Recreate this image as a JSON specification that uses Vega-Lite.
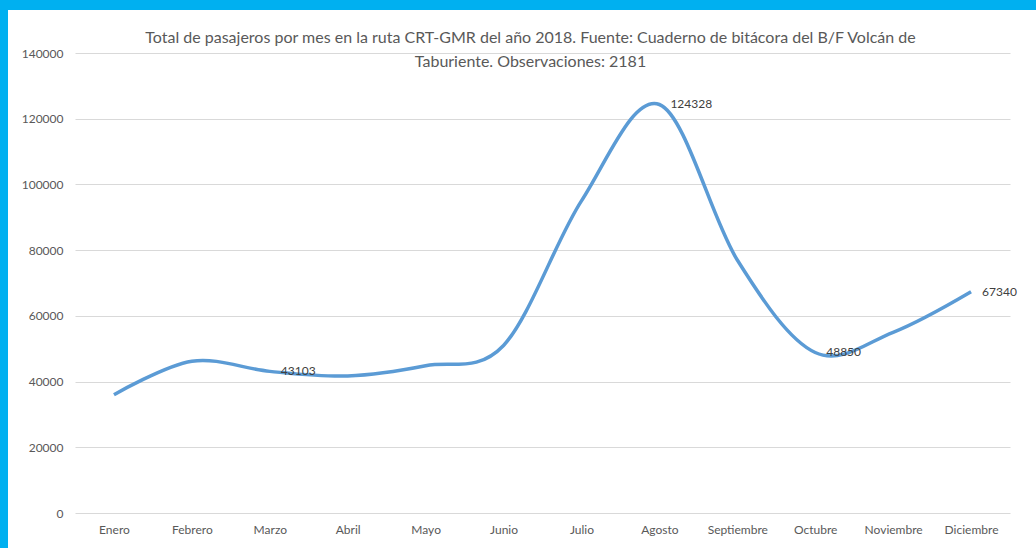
{
  "$schema": "https://vega.github.io/schema/vega-lite/v6.json",
  "background": "white",
  "padding": 0,
  "spacing": 0,
  "vconcat": [
    {
      "width": 1036,
      "height": 10,
      "data": {"values": []},
      "mark": "rect",
      "view": {"fill": "#00B0F0", "stroke": null}
    },
    {
      "spacing": 0,
      "hconcat": [
        {
          "width": 8,
          "height": 538,
          "data": {"values": []},
          "mark": "rect",
          "view": {"fill": "#00B0F0", "stroke": null}
        },
        {
          "width": 935,
          "height": 503,
          "view": {"stroke": null},
          "title": {
            "text": ["Total de pasajeros por mes en la ruta CRT-GMR del año 2018. Fuente: Cuaderno de bitácora del B/F Volcán de", "Taburiente. Observaciones: 2181"],
            "frame": "group",
            "anchor": "middle",
            "offset": -60,
            "dx": -12,
            "font": "Lato",
            "fontSize": 16,
            "fontWeight": "normal",
            "color": "#595959",
            "lineHeight": 24
          },
          "data": {
            "values": [
              {"mes": "Enero", "pasajeros": 36000},
              {"mes": "Febrero", "pasajeros": 46200},
              {"mes": "Marzo", "pasajeros": 43103},
              {"mes": "Abril", "pasajeros": 41700},
              {"mes": "Mayo", "pasajeros": 44800},
              {"mes": "Junio", "pasajeros": 51000},
              {"mes": "Julio", "pasajeros": 95000},
              {"mes": "Agosto", "pasajeros": 124328},
              {"mes": "Septiembre", "pasajeros": 77000},
              {"mes": "Octubre", "pasajeros": 48850},
              {"mes": "Noviembre", "pasajeros": 55000},
              {"mes": "Diciembre", "pasajeros": 67340}
            ]
          },
          "encoding": {
            "x": {
              "field": "mes",
              "type": "ordinal",
              "sort": null,
              "scale": {"type": "point", "padding": 0.5},
              "axis": {
                "title": null,
                "domain": false,
                "ticks": false,
                "grid": false,
                "labelAngle": 0,
                "labelPadding": 11,
                "labelFont": "Lato",
                "labelFontSize": 12,
                "labelColor": "#595959"
              }
            },
            "y": {
              "field": "pasajeros",
              "type": "quantitative",
              "scale": {"domain": [0, 153087], "nice": false, "zero": true},
              "axis": {
                "title": null,
                "values": [0, 20000, 40000, 60000, 80000, 100000, 120000, 140000],
                "format": "d",
                "domain": false,
                "ticks": false,
                "grid": true,
                "gridColor": "#D9D9D9",
                "gridWidth": 1,
                "labelPadding": 12,
                "labelFont": "Lato",
                "labelFontSize": 12,
                "labelColor": "#595959",
                "minExtent": 67,
                "maxExtent": 67
              }
            }
          },
          "layer": [
            {
              "mark": {"type": "line", "interpolate": "cardinal", "color": "#5B9BD5", "strokeWidth": 3.5}
            },
            {
              "transform": [{"filter": {"field": "mes", "oneOf": ["Marzo", "Agosto", "Octubre", "Diciembre"]}}],
              "mark": {"type": "text", "align": "left", "baseline": "middle", "dx": 11, "font": "Lato", "fontSize": 12, "color": "#404040"},
              "encoding": {"text": {"field": "pasajeros", "type": "quantitative", "format": "d"}}
            }
          ]
        }
      ]
    }
  ]
}
